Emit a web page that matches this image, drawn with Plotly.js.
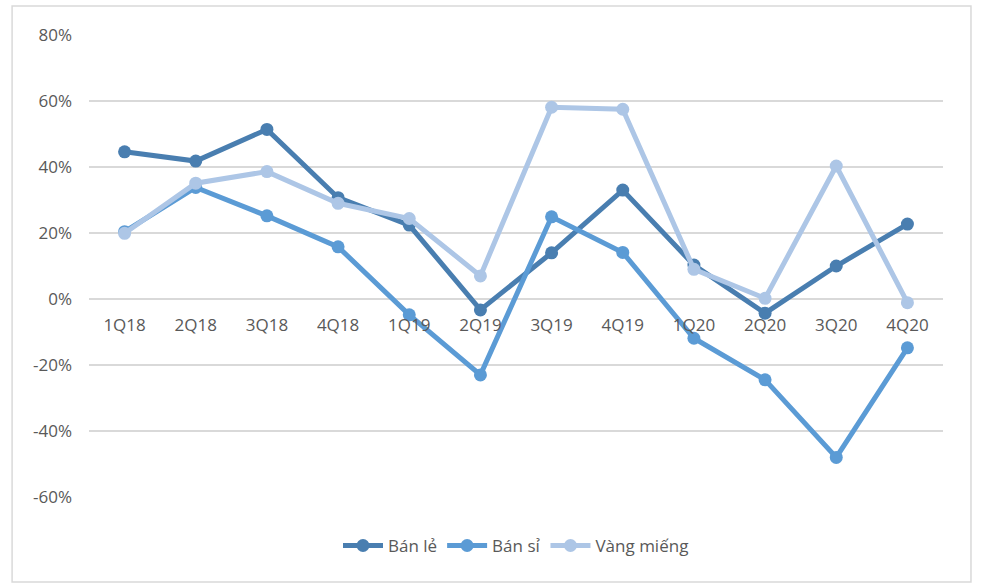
<!DOCTYPE html>
<html>
<head>
<meta charset="utf-8">
<script src="https://cdn.plot.ly/plotly-3.0.1.min.js"></script>
<style>
html,body{margin:0;padding:0;background:#fff;}
#chart{width:982px;height:586px;}
</style>
</head>
<body>
<div id="chart"></div>
<script>
const categories = ["1Q18","2Q18","3Q18","4Q18","1Q19","2Q19","3Q19","4Q19","1Q20","2Q20","3Q20","4Q20"];
const banLe = [44.6, 41.8, 51.4, 30.7, 22.4, -3.3, 14.0, 33.0, 10.3, -4.3, 10.0, 22.7];
const banSi = [20.4, 33.8, 25.2, 15.8, -4.8, -23.0, 24.9, 14.1, -11.9, -24.5, -48.0, -14.8];
const vangMieng = [19.9, 35.1, 38.6, 29.0, 24.4, 7.0, 58.1, 57.5, 9.0, 0.2, 40.3, -1.1];
const seriesNames = ["Bán lẻ", "Bán sỉ", "Vàng miếng"];
const yTickVals = [-60, -40, -20, 0, 20, 40, 60, 80];
const yTickText = ["-60%", "-40%", "-20%", "0%", "20%", "40%", "60%", "80%"];

const colors = ["#497EB0", "#5B9BD5", "#ADC6E6"];
const seriesData = [banLe, banSi, vangMieng];

const traces = seriesData.map((vals, i) => ({
  type: "scatter",
  mode: "lines+markers",
  name: seriesNames[i],
  x: categories,
  y: vals,
  line: {color: colors[i], width: 5},
  marker: {color: colors[i], size: 13},
  hoverinfo: "x+y+name"
}));

const font = "Open Sans, Liberation Sans, sans-serif";
const layout = {
  width: 982,
  height: 586,
  margin: {l: 89, r: 39, t: 35, b: 89},
  paper_bgcolor: "#ffffff",
  plot_bgcolor: "#ffffff",
  font: {family: font, color: "#595959", size: 17},
  showlegend: true,
  legend: {
    orientation: "h",
    x: 0.5, xanchor: "center",
    y: -0.106, yanchor: "middle",
    font: {family: font, size: 17, color: "#595959"},
    itemwidth: 40,
    traceorder: "normal"
  },
  xaxis: {
    type: "category",
    range: [-0.5, categories.length - 0.5],
    anchor: "free",
    position: 60 / 140,
    showgrid: false,
    showline: false,
    zeroline: false,
    ticks: "",
    ticklabelstandoff: 14,
    tickfont: {family: font, size: 17, color: "#595959"},
    fixedrange: true
  },
  yaxis: {
    range: [-60, 80],
    tickvals: yTickVals,
    ticktext: yTickText,
    showgrid: true,
    gridcolor: "#d9d9d9",
    gridwidth: 1.5,
    zeroline: true,
    zerolinecolor: "#d9d9d9",
    zerolinewidth: 1.5,
    showline: false,
    ticks: "",
    ticklabelstandoff: 16,
    tickfont: {family: font, size: 17, color: "#595959"},
    fixedrange: true
  },
  shapes: [{
    type: "rect",
    xref: "paper", yref: "paper",
    x0: (12 - 89) / 855, x1: (972 - 89) / 855,
    y0: (497 - 582) / 462, y1: (497 - 6) / 462,
    line: {color: "#d9d9d9", width: 1.5},
    fillcolor: "rgba(0,0,0,0)",
    layer: "below"
  }]
};

Plotly.newPlot("chart", traces, layout, {displayModeBar: false, staticPlot: true});
</script>
</body>
</html>
